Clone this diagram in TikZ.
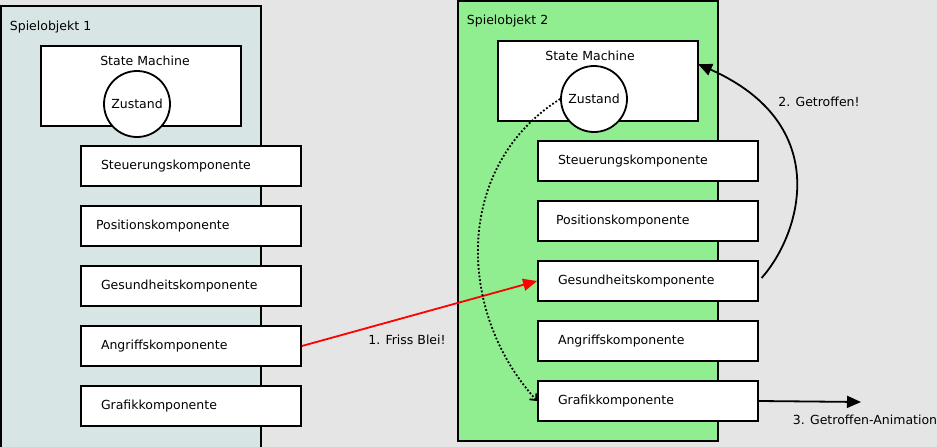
\documentclass[tikz,border=0pt]{standalone}
\usepackage{fontspec}
\setmainfont{DejaVu Sans}
\usetikzlibrary{arrows.meta}
\definecolor{bggray}{HTML}{E5E5E5}
\definecolor{objblue}{HTML}{D7E5E4}
\definecolor{objgreen}{HTML}{90EE90}
\begin{document}
\begin{tikzpicture}[x=1pt, y=-1pt, line width=1.8pt, >={Triangle[length=14pt,width=12pt]},
  object node/.style={draw,minimum width=260pt,inner sep=0pt},
  machine node/.style={draw,fill=white,minimum width=200pt,minimum height=80pt,inner sep=0pt},
  state node/.style={circle,draw,fill=white,minimum size=66pt,inner sep=0pt},
  comp node/.style={draw,fill=white,minimum width=220pt,minimum height=40pt,text width=180pt,inner xsep=20pt,inner ysep=0pt,align=left},
  text node/.style={inner sep=0pt}]
\useasboundingbox (0,0) rectangle (937,447);
\clip (0,0) rectangle (937,447);
\fill[bggray] (0,0) rectangle (937,447);
\begin{scope}[every node/.style={font=\fontsize{12.5}{15}\selectfont}]
% Spielobjekt 1
\node[object node,fill=objblue,minimum height=446pt] (obj1) at (131,229) {};
\node[text node,anchor=west] (obj1 label) at (9,27) {Spielobjekt 1};
\node[machine node] (sm1) at (141,86) {};
\node[text node] (sm1 label) at (145,61) {State Machine};
\node[state node] (z1) at (137,104) {Zustand};
\node[comp node] (st1) at (191,166) {Steuerungskomponente};
\node[comp node,text width=190pt,inner xsep=15pt] (po1) at (191,226) {Positionskomponente};
\node[comp node] (ge1) at (191,286) {Gesundheitskomponente};
\node[comp node] (an1) at (191,346) {Angriffskomponente};
\node[comp node] (gr1) at (191,406) {Grafikkomponente};
% Spielobjekt 2
\node[object node,fill=objgreen,minimum height=440pt] (obj2) at (588,221) {};
\node[text node,anchor=west] (obj2 label) at (466,21) {Spielobjekt 2};
\node[machine node] (sm2) at (598,81) {};
\node[text node] (sm2 label) at (590,56) {State Machine};
\node[state node] (z2) at (594,99) {Zustand};
\node[comp node] (st2) at (648,161) {Steuerungskomponente};
\node[comp node,text width=184pt,inner xsep=18pt] (po2) at (648,221) {Positionskomponente};
\node[comp node] (ge2) at (648,281) {Gesundheitskomponente};
\node[comp node] (an2) at (648,341) {Angriffskomponente};
\node[comp node] (gr2) at (648,401) {Grafikkomponente};
% Beschriftungen
\node[text node] (msg1) at (407,340) {1. Friss Blei!};
\node[text node] (msg2) at (819,102) {2. Getroffen!};
\node[text node,anchor=west] (msg3) at (792,420) {3. Getroffen-Animation};
\coordinate (hit) at (698,64);
\coordinate (anim) at (861,402);
\end{scope}
\begin{scope}
\draw[red,->] (an1.east) -- (ge2.west);
\draw[->,shorten <=4pt] (ge2.east) .. controls (800,235) and (835,125) .. (hit);
\draw[dotted,-{Straight Barb[length=5pt,width=9pt]},line width=1.8pt] (z2.west) .. controls (455,165) and (455,310) .. (gr2.west);
\draw[->] (gr2.east) -- (anim);
\end{scope}
\end{tikzpicture}
\end{document}
